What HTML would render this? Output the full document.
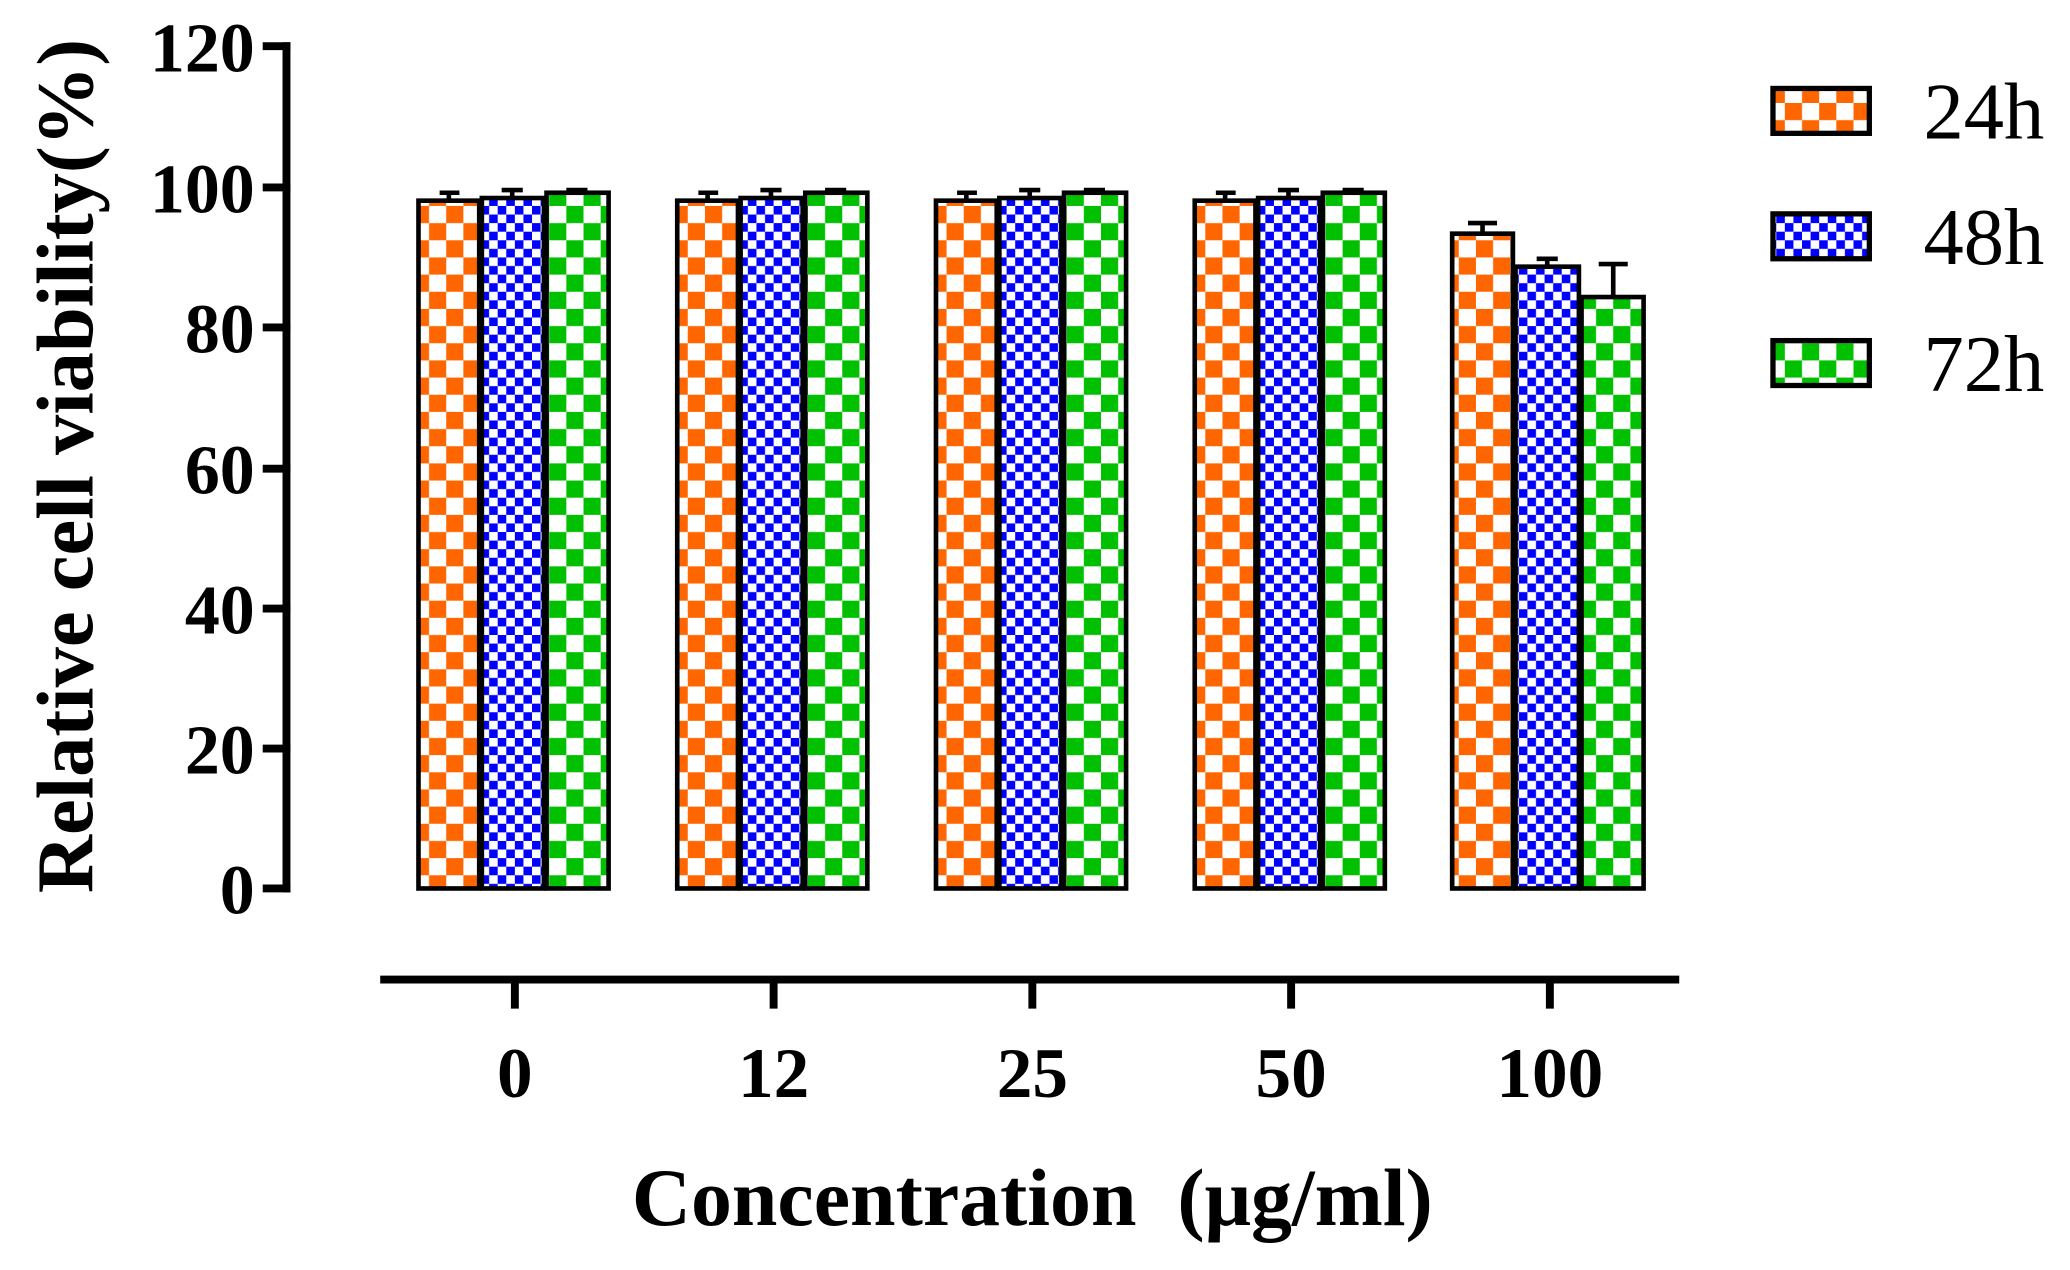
<!DOCTYPE html>
<html><head><meta charset="utf-8"><style>html,body{margin:0;padding:0;background:#fff}svg{display:block}</style></head>
<body>
<svg width="2070" height="1270" viewBox="0 0 1568 962" xmlns="http://www.w3.org/2000/svg">
<defs>
<pattern id="po" patternUnits="userSpaceOnUse" width="26" height="26"><rect width="26" height="26" fill="#fff"/><rect width="13" height="13" fill="#ff6600"/><rect x="13" y="13" width="13" height="13" fill="#ff6600"/></pattern>
<pattern id="pb" patternUnits="userSpaceOnUse" width="13" height="13"><rect width="13" height="13" fill="#fff"/><rect width="6.5" height="6.5" fill="#0000ff"/><rect x="6.5" y="6.5" width="6.5" height="6.5" fill="#0000ff"/></pattern>
<pattern id="pg" patternUnits="userSpaceOnUse" width="26" height="26"><rect width="26" height="26" fill="#fff"/><rect x="13" width="13" height="13" fill="#00c000"/><rect y="13" width="13" height="13" fill="#00c000"/></pattern>
</defs>
<g font-family="Liberation Serif, serif" font-weight="bold" font-size="53" text-anchor="end">
<text x="193" y="54">120</text><text x="193" y="161">100</text><text x="193" y="267">80</text>
<text x="193" y="374">60</text><text x="193" y="480">40</text><text x="193" y="586">20</text><text x="193" y="692">0</text>
</g>
<g stroke="#000" stroke-width="6">
<line x1="217" y1="32" x2="217" y2="676"/>
<line x1="199" y1="35" x2="220" y2="35"/><line x1="199" y1="142" x2="220" y2="142"/><line x1="199" y1="248" x2="220" y2="248"/>
<line x1="199" y1="355" x2="220" y2="355"/><line x1="199" y1="461" x2="220" y2="461"/><line x1="199" y1="567" x2="220" y2="567"/><line x1="199" y1="673" x2="220" y2="673"/>
<line x1="288" y1="742" x2="1272" y2="742"/>
<line x1="390" y1="742" x2="390" y2="764"/><line x1="586" y1="742" x2="586" y2="764"/><line x1="782" y1="742" x2="782" y2="764"/><line x1="978" y1="742" x2="978" y2="764"/><line x1="1174" y1="742" x2="1174" y2="764"/>
</g>
<text transform="translate(70,353) rotate(-90)" font-family="Liberation Serif, serif" font-weight="bold" font-size="61" text-anchor="middle">Relative cell viability(%)</text>
<g font-family="Liberation Serif, serif" font-weight="bold" font-size="54" text-anchor="middle">
<text x="390" y="831">0</text><text x="586" y="831">12</text><text x="782" y="831">25</text><text x="978" y="831">50</text><text x="1174" y="831">100</text>
</g>
<text x="782" y="928" font-family="Liberation Serif, serif" font-weight="bold" font-size="62" text-anchor="middle" xml:space="preserve">Concentration  (μg/ml)</text>
<g stroke="#000" stroke-width="3.5">
<g id="grp">
<line x1="340" y1="152" x2="340" y2="146"/><line x1="333" y1="146" x2="348" y2="146"/>
<line x1="388" y1="150" x2="388" y2="144"/><line x1="380" y1="144" x2="396" y2="144"/>
<line x1="437" y1="146" x2="437" y2="144"/><line x1="429" y1="144" x2="445" y2="144"/>
<rect x="317" y="152" width="46" height="521" fill="url(#po)"/>
<rect x="365" y="150" width="47" height="523" fill="url(#pb)"/>
<rect x="414" y="146" width="47" height="527" fill="url(#pg)"/>
</g>
<use href="#grp" x="196"/><use href="#grp" x="392"/><use href="#grp" x="588"/>
<line x1="1123" y1="177" x2="1123" y2="169"/><line x1="1112" y1="169" x2="1134" y2="169"/>
<line x1="1172" y1="202" x2="1172" y2="196"/><line x1="1164" y1="196" x2="1180" y2="196"/>
<line x1="1222" y1="225" x2="1222" y2="200"/><line x1="1211" y1="200" x2="1233" y2="200"/>
<rect x="1100" y="177" width="46" height="496" fill="url(#po)"/>
<rect x="1148" y="202" width="48" height="471" fill="url(#pb)"/>
<rect x="1198" y="225" width="47" height="448" fill="url(#pg)"/>
</g>
<g stroke="#000" stroke-width="4">
<rect x="1343" y="67" width="73" height="34" fill="url(#po)"/>
<rect x="1343" y="162" width="73" height="34" fill="url(#pb)"/>
<rect x="1343" y="258" width="73" height="34" fill="url(#pg)"/>
</g>
<g font-family="Liberation Serif, serif" font-size="61">
<text x="1457" y="105">24h</text><text x="1457" y="200">48h</text><text x="1457" y="296">72h</text>
</g>
</svg>
</body></html>
